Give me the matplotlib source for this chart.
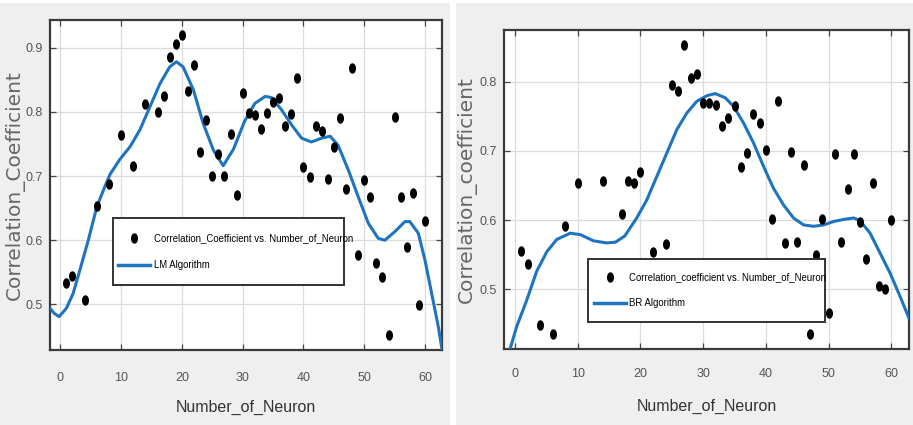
import numpy as np
import matplotlib
matplotlib.use("Agg")
import matplotlib.pyplot as plt
from matplotlib.path import Path
from matplotlib.lines import Line2D
from matplotlib.patches import Rectangle

# ---------------- data ----------------
lm_x = [1, 2, 4, 6, 8, 10, 12, 14, 16, 17, 18, 19, 20, 21, 22, 23, 24, 25, 26, 27,
        28, 29, 30, 31, 32, 33, 34, 35, 36, 37, 38, 39, 40, 41, 42, 43, 44, 45, 46,
        47, 48, 49, 50, 51, 52, 53, 54, 55, 56, 57, 58, 59, 60]
lm_y = [0.534, 0.544, 0.507, 0.653, 0.687, 0.764, 0.716, 0.812, 0.800, 0.825, 0.885,
        0.905, 0.920, 0.833, 0.873, 0.737, 0.787, 0.700, 0.735, 0.700, 0.766, 0.671,
        0.830, 0.798, 0.795, 0.773, 0.798, 0.816, 0.822, 0.778, 0.796, 0.853, 0.714,
        0.699, 0.778, 0.770, 0.696, 0.745, 0.790, 0.679, 0.868, 0.577, 0.694, 0.668,
        0.565, 0.542, 0.453, 0.792, 0.668, 0.589, 0.673, 0.499, 0.630]

lm_fit_x = [-1.7, -1.0, -0.2, 1.0, 2.1, 3.2, 4.6, 6.0, 7.3, 8.2, 9.8, 11.5, 13.1, 14.75,
            16.4, 18.0, 19.1, 20.2, 21.9, 23.5, 25.2, 26.8, 28.5, 30.3, 32.0, 33.7, 34.8,
            36.4, 38.1, 39.7, 41.3, 43.0, 44.4, 45.7, 47.4, 49.0, 50.7, 52.3, 53.4, 55.0,
            56.7, 57.5, 58.9, 60.0, 61.1, 62.2, 62.8]
lm_fit_y = [0.494, 0.486, 0.481, 0.494, 0.517, 0.553, 0.600, 0.652, 0.683, 0.703, 0.726,
            0.746, 0.772, 0.808, 0.844, 0.870, 0.878, 0.870, 0.834, 0.782, 0.740, 0.716,
            0.742, 0.785, 0.813, 0.824, 0.822, 0.803, 0.779, 0.759, 0.753, 0.759, 0.762,
            0.748, 0.709, 0.668, 0.626, 0.603, 0.600, 0.613, 0.629, 0.629, 0.611, 0.569,
            0.517, 0.465, 0.430]

br_x = [1, 2, 4, 6, 8, 10, 14, 17, 18, 19, 20, 22, 24, 25, 26, 27, 28, 29, 30, 31, 32,
        33, 34, 35, 36, 37, 38, 39, 40, 41, 42, 43, 44, 45, 46, 47, 48, 49, 50, 51, 52,
        53, 54, 55, 56, 57, 58, 59, 60]
br_y = [0.556, 0.536, 0.448, 0.435, 0.591, 0.654, 0.657, 0.609, 0.657, 0.654, 0.669,
        0.554, 0.566, 0.796, 0.787, 0.853, 0.806, 0.812, 0.770, 0.770, 0.767, 0.736,
        0.747, 0.765, 0.677, 0.697, 0.753, 0.741, 0.701, 0.601, 0.772, 0.567, 0.698,
        0.569, 0.679, 0.435, 0.550, 0.601, 0.466, 0.696, 0.569, 0.645, 0.695, 0.597,
        0.543, 0.654, 0.504, 0.501, 0.600]

br_fit_x = [-0.9, 0.27, 1.87, 3.46, 5.06, 6.65, 8.8, 10.4, 12.5, 14.6, 16.0, 17.5, 19.4,
            21.0, 22.6, 24.2, 25.8, 27.4, 29.0, 30.6, 31.9, 33.5, 34.8, 36.4, 38.0, 39.6,
            41.2, 42.8, 44.4, 46.0, 47.6, 49.2, 50.8, 52.4, 54.0, 55.0, 56.6, 58.2, 59.8,
            61.4, 62.8]
br_fit_y = [0.410, 0.446, 0.484, 0.526, 0.554, 0.572, 0.581, 0.579, 0.570, 0.567, 0.568,
            0.577, 0.603, 0.629, 0.663, 0.697, 0.731, 0.755, 0.772, 0.780, 0.783, 0.777,
            0.765, 0.741, 0.712, 0.678, 0.646, 0.622, 0.603, 0.593, 0.591, 0.593, 0.598,
            0.601, 0.603, 0.599, 0.581, 0.552, 0.523, 0.489, 0.458]

x_ticks = [0, 10, 20, 30, 40, 50, 60]
lm_yticks = [0.5, 0.6, 0.7, 0.8, 0.9]
br_yticks = [0.5, 0.6, 0.7, 0.8]

xlabel = "Number_of_Neuron"
lm_ylabel = "Correlation_Coefficient"
br_ylabel = "Correlation_coefficient"
lm_leg = ["Correlation_Coefficient vs. Number_of_Neuron", "LM Algorithm"]
br_leg = ["Correlation_coefficient vs. Number_of_Neuron", "BR Algorithm"]

# ---------------- style ----------------
NARROW = ["Liberation Sans", "DejaVu Sans"]
WIDE = ["DejaVu Sans"]
BLUE = "#1f74c0"
BG = "#efefef"

theta = np.linspace(0, 2 * np.pi, 40)
ell = Path(np.column_stack([0.62 * np.cos(theta), np.sin(theta)]), closed=True)

fig = plt.figure(figsize=(9.13, 4.25), dpi=100, facecolor=BG)
fig.patches.append(Rectangle((450 / 913, 0), 6 / 913, 1, transform=fig.transFigure,
                             facecolor="white", edgecolor="none", zorder=0))
fig.patches.append(Rectangle((0, 1 - 3 / 425), 1, 3 / 425, transform=fig.transFigure,
                             facecolor="white", edgecolor="none", zorder=0))


def panel(rect, xs, ys, fx, fy, xlim, ylim, yticks, ylab, leg, legbox, xpad,
          ylabel_x, xlabel_y, rowgap):
    ax = fig.add_axes(rect)
    ax.set_facecolor("white")
    ax.plot(fx, fy, color=BLUE, lw=2.2, zorder=3, solid_joinstyle="round")
    ax.plot(xs, ys, linestyle="none", marker=ell, markersize=6.5, color="black",
            zorder=4)
    ax.set_xlim(*xlim)
    ax.set_ylim(*ylim)
    ax.set_xticks(x_ticks)
    ax.set_yticks(yticks)
    ax.set_yticklabels([f"{v:.1f}" for v in yticks])
    ax.grid(True, color="#dcdcdc", lw=0.9)
    ax.set_axisbelow(True)
    for s in ax.spines.values():
        s.set_color("#3a3a3a")
        s.set_linewidth(1.6)
    ax.tick_params(direction="in", top=True, right=True, length=4, width=0.9,
                   color="#444444", labelcolor="#555555", labelsize=9)
    ax.tick_params(axis="x", pad=xpad)
    ax.tick_params(axis="y", pad=5)
    for lab in ax.get_xticklabels() + ax.get_yticklabels():
        lab.set_family(NARROW)
    ax.set_xlabel(xlabel, family=NARROW, fontsize=11.5, color="#333333")
    ax.xaxis.set_label_coords(0.5, xlabel_y)
    ax.set_ylabel(ylab, family=WIDE, fontsize=14.5, color="#666666")
    ax.yaxis.set_label_coords(ylabel_x, 0.5)

    # legend box (MATLAB-like) and its entries
    bx, by, bw, bh = legbox
    ax.add_patch(Rectangle((bx, by), bw, bh, transform=ax.transAxes,
                           facecolor="white", edgecolor="#333333", lw=1.4,
                           zorder=5))
    h = [Line2D([], [], linestyle="none", marker=ell, markersize=6.5, color="black"),
         Line2D([], [], color=BLUE, lw=2.5)]
    lg = ax.legend(h, leg, loc="center left", bbox_to_anchor=(bx, by + bh / 2),
                   prop={"family": NARROW, "size": 6.9}, frameon=False,
                   borderpad=0.0, labelspacing=rowgap, handlelength=3.3,
                   handletextpad=0.4, borderaxespad=0.6)
    lg.set_zorder(6)
    return ax


panel([50 / 913, 75 / 425, 392 / 913, 330 / 425], lm_x, lm_y, lm_fit_x, lm_fit_y,
      (-1.7, 62.8), (0.429, 0.943), lm_yticks, lm_ylabel, lm_leg,
      (0.16, 0.197, 0.59, 0.202), 16, -0.064, -0.15, 1.75)
panel([504 / 913, 76 / 425, 405 / 913, 319 / 425], br_x, br_y, br_fit_x, br_fit_y,
      (-1.75, 62.8), (0.4135, 0.875), br_yticks, br_ylabel, br_leg,
      (0.208, 0.086, 0.585, 0.195), 14, -0.068, -0.155, 1.65)

fig.savefig("out.png", dpi=100, facecolor=BG)
